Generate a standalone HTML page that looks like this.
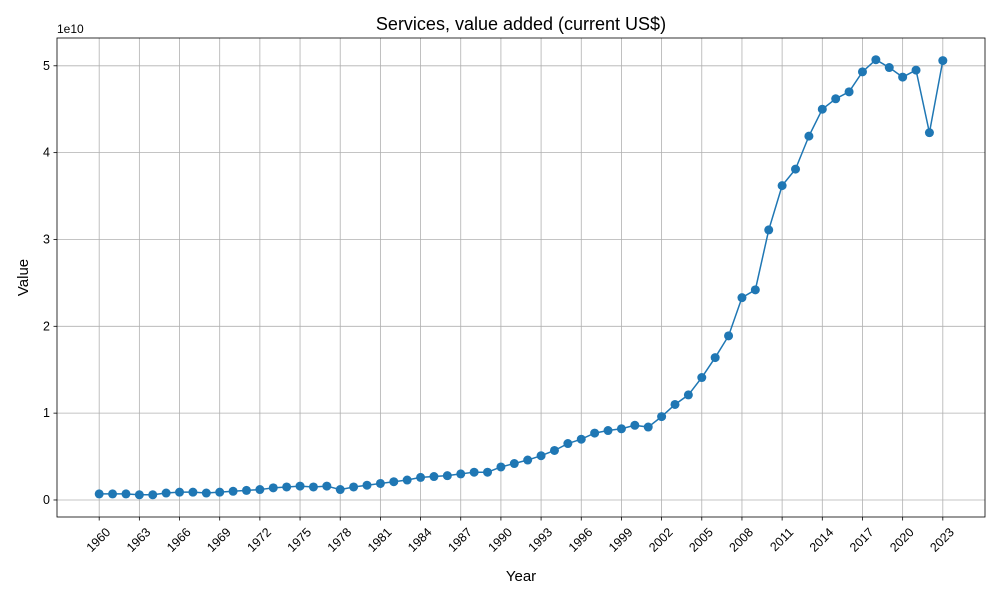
<!DOCTYPE html>
<html><head><meta charset="utf-8"><style>
body{margin:0;background:#fff;font-family:"Liberation Sans","DejaVu Sans",sans-serif}
</style></head><body>
<svg id="chart" width="1000" height="600" xmlns="http://www.w3.org/2000/svg" style="display:block"></svg>
<script>
const years=[];for(let y=1960;y<=2023;y++)years.push(y);
const values=[0.07,0.07,0.07,0.06,0.06,0.08,0.09,0.09,0.08,0.09,0.10,0.11,0.12,0.14,0.15,0.16,0.15,0.16,0.12,0.15,0.17,0.19,0.21,0.23,0.26,0.27,0.28,0.30,0.32,0.32,0.38,0.42,0.46,0.51,0.57,0.65,0.70,0.77,0.80,0.82,0.86,0.84,0.96,1.10,1.21,1.41,1.64,1.89,2.33,2.42,3.11,3.62,3.81,4.19,4.50,4.62,4.70,4.93,5.07,4.98,4.87,4.95,4.23,5.06];
const yTicks=[0,1,2,3,4,5];
const xTicks=[1960,1963,1966,1969,1972,1975,1978,1981,1984,1987,1990,1993,1996,1999,2002,2005,2008,2011,2014,2017,2020,2023];
const L=57,R=985,T=38,B=517;
const xmin=1956.85,xmax=2026.15,ymin=-0.196,ymax=5.32;
const sx=v=>L+(v-xmin)/(xmax-xmin)*(R-L);
const sy=v=>B-(v-ymin)/(ymax-ymin)*(B-T);
const svg=document.getElementById('chart');const NS='http://www.w3.org/2000/svg';
function mk(t,a,p){const e=document.createElementNS(NS,t);for(const k in a)e.setAttribute(k,a[k]);(p||svg).appendChild(e);return e;}
const grid=mk('g',{});


xTicks.forEach(t=>{const x=sx(t);
 const l=mk('line',{x1:x,x2:x,y1:T,y2:B,stroke:'#b0b0b0','stroke-width':0.8},grid);
 
 mk('line',{x1:x,x2:x,y1:B,y2:B+3.5,stroke:'#000','stroke-width':0.8});
 const tx=mk('text',{x:0,y:0,'font-size':12.5,'text-anchor':'end',transform:`translate(${x+12},${B+16}) rotate(-45)`});
 tx.textContent=t;
});
yTicks.forEach(t=>{const y=sy(t);
 const l=mk('line',{x1:L,x2:R,y1:y,y2:y,stroke:'#b0b0b0','stroke-width':0.8},grid);
 
 mk('line',{x1:L-3.5,x2:L,y1:y,y2:y,stroke:'#000','stroke-width':0.8});
 const tx=mk('text',{x:L-7,y:y+4,'font-size':12.5,'text-anchor':'end'});
 tx.textContent=t;
});
const frame=mk('rect',{x:L,y:T,width:R-L,height:B-T,fill:'none',stroke:'#000','stroke-width':0.8});

const line=mk('polyline',{points:years.map((y,i)=>sx(y)+','+sy(values[i])).join(' '),fill:'none',stroke:'#1f77b4','stroke-width':1.5});

years.forEach((y,i)=>{const c=mk('circle',{cx:sx(y),cy:sy(values[i]),r:4.5,fill:'#1f77b4'});
 });
const ti=mk('text',{x:(L+R)/2,y:30,'font-size':18,'text-anchor':'middle'});ti.textContent='Services, value added (current US$)';

const xl=mk('text',{x:(L+R)/2,y:581,'font-size':15,'text-anchor':'middle'});xl.textContent='Year';

const yl=mk('text',{x:0,y:0,'font-size':15,'text-anchor':'middle',transform:`translate(28,${(T+B)/2}) rotate(-90)`});yl.textContent='Value';

const off=mk('text',{x:L,y:33,'font-size':12});off.textContent='1e10';

</script>
</body></html>
